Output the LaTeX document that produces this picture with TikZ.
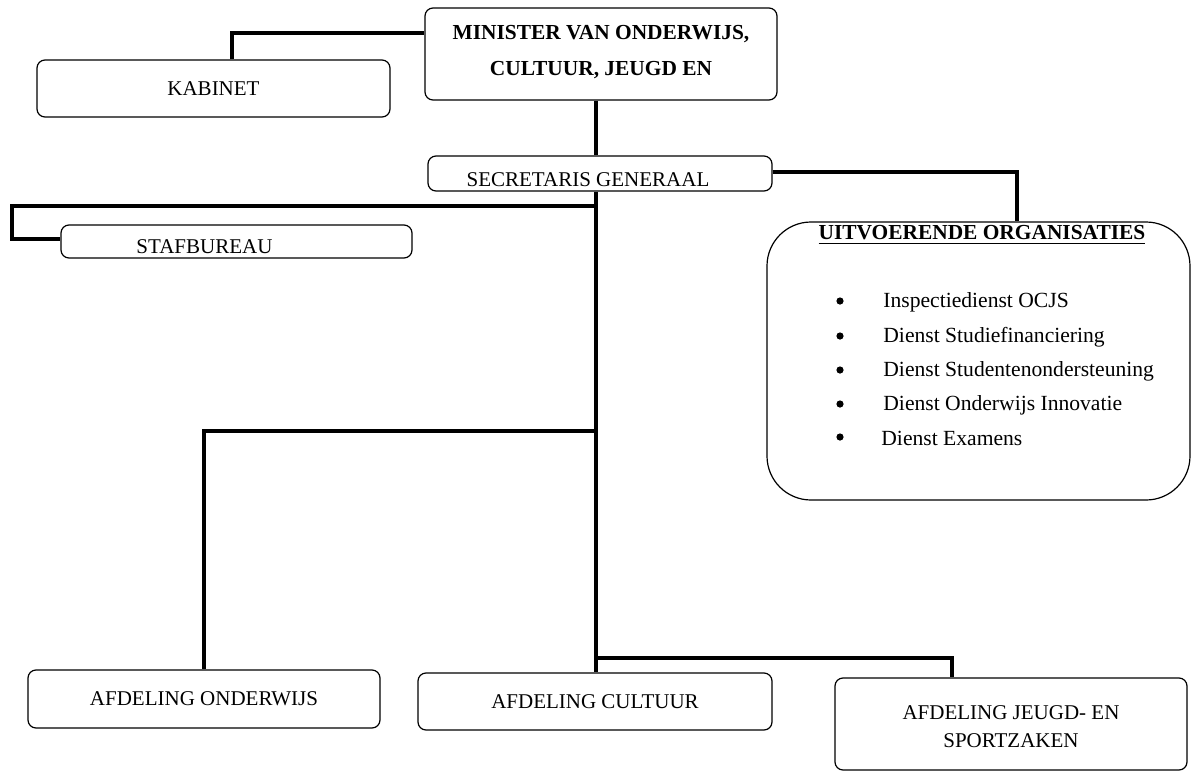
\documentclass[tikz,border=0pt]{standalone}
\usepackage{fontspec}
\setmainfont{Liberation Serif}
\begin{document}
\begin{tikzpicture}[x=0.5pt,y=-0.5pt,
  box/.style={draw, line width=0.6pt, rounded corners=4pt, inner sep=0pt, align=center,
    font=\fontsize{10.5}{14}\selectfont},
  boldbox/.style={box, font=\fontsize{10.7}{18}\selectfont\bfseries},
  conn/.style={line width=2pt, line join=miter},
  item/.style={anchor=west, inner sep=0pt, font=\fontsize{10.8}{13}\selectfont},
  bul/.style={circle, fill=black, inner sep=0pt, minimum size=3.6pt}]
\useasboundingbox (0,0) rectangle (1191,772);

% boxes
\node[boldbox, minimum width=176pt, minimum height=46pt] (min) at (601,54)
  {\raisebox{2pt}[\height][\depth]{\begin{tabular}{c}MINISTER VAN ONDERWIJS,\\ CULTUUR, JEUGD EN\end{tabular}}};
\node[box, minimum width=176.5pt, minimum height=28.5pt] (kab) at (213.5,88.5) {KABINET};
\node[box, minimum width=172pt, minimum height=17.5pt] (sec) at (600,173.5)
  {\hspace*{-12pt}\raisebox{-6.5pt}[0pt][0pt]{SECRETARIS GENERAAL}};
\node[box, minimum width=175.5pt, minimum height=16.5pt] (staf) at (236.5,241.5)
  {\hspace*{-32pt}\raisebox{-6pt}[0pt][0pt]{STAFBUREAU}};
\node[box, rounded corners=22pt, minimum width=211.5pt, minimum height=139pt] (uo) at (978.5,361) {};
\node[box, minimum width=176pt, minimum height=29pt] (ond) at (204,699) {AFDELING ONDERWIJS};
\node[box, minimum width=177pt, minimum height=28.5pt] (cul) at (595,701.5) {AFDELING CULTUUR};
\node[box, minimum width=176pt, minimum height=46pt] (jeu) at (1011,724)
  {\raisebox{-2pt}[\height][\depth]{\begin{tabular}{c}AFDELING JEUGD- EN\\ SPORTZAKEN\end{tabular}}};

% contents of the uitvoerende organisaties box
\node[inner sep=0pt, font=\fontsize{10.7}{13}\selectfont\bfseries] (uot) at (982,235)
  {\underline{UITVOERENDE ORGANISATIES}};
\node[bul] (b1) at (840,301) {};
\node[bul] (b2) at (840,336) {};
\node[bul] (b3) at (840,370) {};
\node[bul] (b4) at (840,404) {};
\node[bul] (b5) at (840,437) {};
\node[item] (i1) at (883,302) {Inspectiedienst OCJS};
\node[item] (i2) at (883,337) {Dienst Studiefinanciering};
\node[item] (i3) at (883,371) {Dienst Studentenondersteuning};
\node[item] (i4) at (883,405) {Dienst Onderwijs Innovatie};
\node[item] (i5) at (881,438) {Dienst Examens};

% junction coordinates
\coordinate (trunk) at (596,0);
\coordinate (kabj) at (232,33);
\coordinate (uoj) at (1017,172);
\coordinate (stafj) at (12,206);
\coordinate (ondj) at (204,431);
\coordinate (jeuj) at (952,658);

% connectors
\draw[conn] (kab.north -| kabj) -- (kabj) -- (min.west |- kabj);
\draw[conn] (min.south -| trunk) -- (sec.north -| trunk);
\draw[conn] (sec.east |- uoj) -- (uoj) -- (uo.north -| uoj);
\draw[conn] (sec.south -| trunk) -- (cul.north -| trunk);
\draw[conn] (trunk |- stafj) -- (stafj) -- (stafj |- 0,239) -- (staf.west |- 0,239);
\draw[conn] (trunk |- ondj) -- (ondj) -- (ond.north -| ondj);
\draw[conn] (trunk |- jeuj) -- (jeuj) -- (jeu.north -| jeuj);
\end{tikzpicture}
\end{document}
